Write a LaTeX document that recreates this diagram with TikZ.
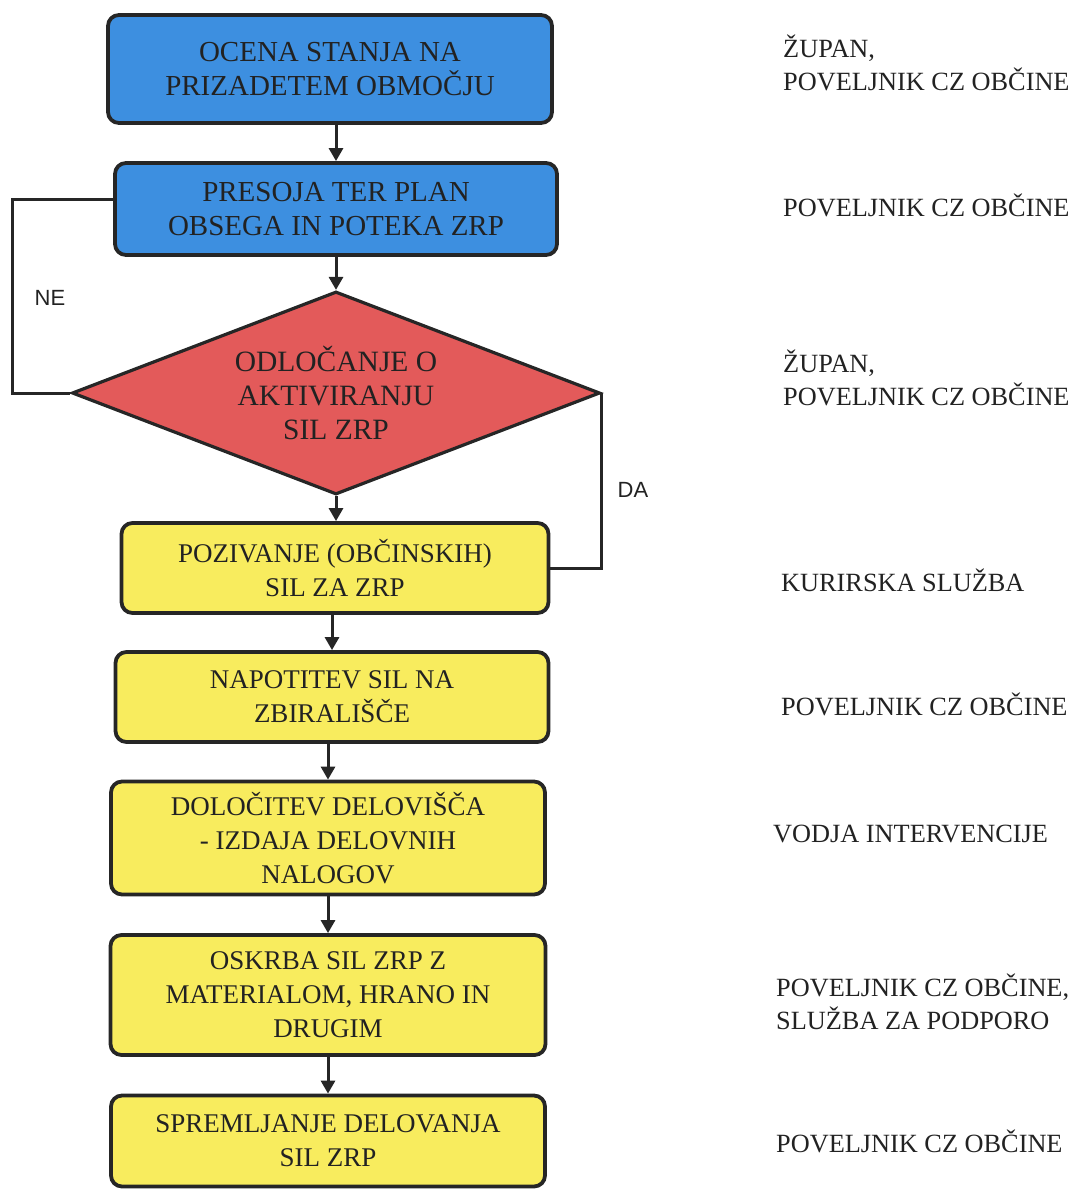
\documentclass[tikz,border=0pt]{standalone}
\usepackage{fontspec}
\setmainfont{Liberation Serif}
\newfontfamily\lsans{Liberation Sans}
\usetikzlibrary{shapes.geometric,arrows.meta,calc}
\definecolor{bluefill}{HTML}{3D8FE0}
\definecolor{redfill}{HTML}{E35A5A}
\definecolor{yelfill}{HTML}{F8EC5E}
\definecolor{edgecol}{HTML}{262626}
\definecolor{txtcol}{HTML}{222222}
\begin{document}
\begin{tikzpicture}[x=1pt,y=-1pt,
  box/.style={draw=edgecol, line width=3.8pt, rounded corners=11pt, align=center,
    font=\fontsize{27}{34}\selectfont, text=txtcol, inner sep=0pt},
  bluebox/.style={box, fill=bluefill, font=\fontsize{29}{34}\selectfont},
  yelbox/.style={box, fill=yelfill},
  decision/.style={diamond, aspect=2.6, draw=edgecol, line width=3.2pt, fill=redfill, align=center,
    font=\fontsize{29.5}{34}\selectfont, text=txtcol, inner sep=0pt},
  arr/.style={draw=edgecol, line width=3pt, -{Triangle[width=14pt,length=13pt]}},
  conn/.style={draw=edgecol, line width=3pt},
  role/.style={anchor=base west, align=left, font=\fontsize{26.3}{33}\selectfont, text=txtcol, inner sep=0pt},
  yn/.style={font=\lsans\fontsize{22}{26}\selectfont, text=txtcol, inner sep=0pt}
]
\useasboundingbox (0,0) rectangle (1076,1190);

\node[bluebox, minimum width=444pt, minimum height=108pt] (b1) at (330,69) {OCENA STANJA NA\\PRIZADETEM OBMOČJU};
\node[bluebox, minimum width=442pt, minimum height=92pt] (b2) at (336,209) {PRESOJA TER PLAN\\OBSEGA IN POTEKA ZRP};
\node[decision, minimum width=528pt, minimum height=203pt] (d) at (336,393) {ODLOČANJE O\\AKTIVIRANJU\\SIL ZRP};
\node[yelbox, minimum width=427pt, minimum height=90pt] (b3) at (335,568) {POZIVANJE (OBČINSKIH)\\SIL ZA ZRP};
\node[yelbox, minimum width=433pt, minimum height=90pt] (b4) at (332,697) {NAPOTITEV SIL NA\\ZBIRALIŠČE};
\node[yelbox, minimum width=434pt, minimum height=113pt] (b5) at (328,838) {DOLOČITEV DELOVIŠČA\\- IZDAJA DELOVNIH\\NALOGOV};
\node[yelbox, minimum width=435pt, minimum height=120pt] (b6) at (328,995) {OSKRBA SIL ZRP Z\\MATERIALOM, HRANO IN\\DRUGIM};
\node[yelbox, minimum width=434pt, minimum height=91pt] (b7) at (328,1141) {SPREMLJANJE DELOVANJA\\SIL ZRP};

% vertical flow
\draw[arr] (b1.south -| b2.north) -- (b2.north);
\draw[arr] (b2.south -| d.north) -- (d.north);
\draw[arr] (d.south) -- (d.south |- b3.north);
\draw[arr] (b3.south -| b4.north) -- (b4.north);
\draw[arr] (b4.south -| b5.north) -- (b5.north);
\draw[arr] (b5.south) -- (b6.north);
\draw[arr] (b6.south) -- (b7.north);

% NE loop
\coordinate (nex) at (12,0);
\draw[conn] ([yshift=9pt]b2.west) -| (nex |- d.west) -- (d.west);
\node[yn] (ne) at (50,298) {NE};

% DA branch
\draw[conn] (d.east) -- (d.east |- b3.east) -- (b3.east);
\node[yn] (da) at (633,490) {DA};

% responsibilities
\node[role] (r1) at (783,91) {ŽUPAN,\\POVELJNIK CZ OBČINE};
\node[role] (r2) at (783,217) {POVELJNIK CZ OBČINE};
\node[role] (r3) at (783,405) {ŽUPAN,\\POVELJNIK CZ OBČINE};
\node[role] (r4) at (781,591) {KURIRSKA SLUŽBA};
\node[role] (r5) at (781,715) {POVELJNIK CZ OBČINE};
\node[role] (r6) at (773,842) {VODJA INTERVENCIJE};
\node[role] (r7) at (776,1029) {POVELJNIK CZ OBČINE,\\SLUŽBA ZA PODPORO};
\node[role] (r8) at (776,1152) {POVELJNIK CZ OBČINE};
\end{tikzpicture}
\end{document}
